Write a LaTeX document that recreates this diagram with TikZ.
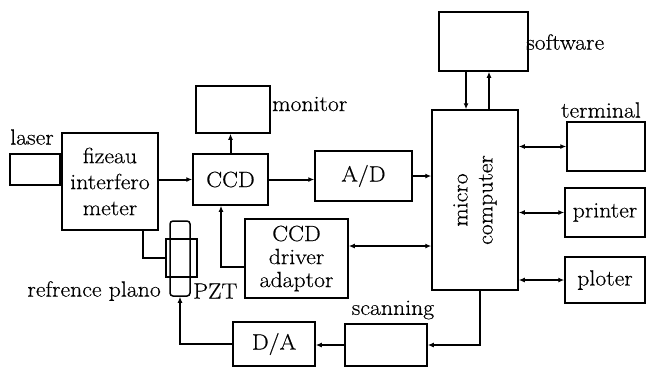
\documentclass[tikz,border=0pt]{standalone}
\usepackage{fontspec}
\setmainfont{Latin Modern Roman}[FakeStretch=1.08,FakeBold=0.4]
\usetikzlibrary{arrows.meta}
\begin{document}
\begin{tikzpicture}[x=1pt,y=-1pt,
  box/.style={draw,line width=1.5pt,inner sep=0pt,font=\fontsize{22}{26}\selectfont},
  conn/.style={line width=2pt},
  arr/.style={conn,-{Latex[length=6pt,width=5pt]}},
  barr/.style={conn,{Latex[length=6pt,width=5pt]}-{Latex[length=6pt,width=5pt]}},
  lbl/.style={inner sep=0pt,font=\fontsize{22}{26}\selectfont}]
\useasboundingbox (0,0) rectangle (647,368);
% boxes
\node[box,minimum width=50pt,minimum height=31pt] (laser) at (35,169.5) {};
\node[box,minimum width=96pt,minimum height=97pt,align=center,font=\fontsize{22}{26}\selectfont] (fizeau) at (110,181.5) {fizeau\\interfero\\meter};
\node[box,minimum width=74pt,minimum height=47pt] (monitor) at (233,109.5) {};
\node[box,minimum width=75pt,minimum height=51pt] (CCD) at (230.5,179.5) {CCD};
\node[box,minimum width=97pt,minimum height=50pt] (AD) at (363.5,176) {A/D};
\node[box,minimum width=103pt,minimum height=79pt,align=center,font=\fontsize{22}{23}\selectfont] (driver) at (296.5,258.5) {CCD\\driver\\adaptor};
\node[box,minimum width=86pt,minimum height=180pt] (micro) at (475,200) {};
\node[lbl,rotate=90,align=center,font=\fontsize{22}{25}\selectfont] (microtext) at (475,200) {micro\\computer};
\node[box,minimum width=89pt,minimum height=59pt] (software) at (483.5,41.5) {};
\node[box,minimum width=78pt,minimum height=49pt] (terminal) at (606,146.5) {};
\node[box,minimum width=80pt,minimum height=49pt] (printer) at (605,212.5) {printer};
\node[box,minimum width=80pt,minimum height=46pt] (ploter) at (605,280) {ploter};
\node[box,minimum width=82pt,minimum height=42pt] (scanning) at (386,345) {};
\node[box,minimum width=82pt,minimum height=44pt] (DA) at (274,344) {D/A};
% PZT assembly
\node[draw,line width=1.5pt,rounded corners=3pt,minimum width=20pt,minimum height=75pt,inner sep=0pt] (pzt) at (180,258.5) {};
\node[draw,line width=1.5pt,minimum width=31pt,minimum height=38pt,inner sep=0pt] (pzto) at (181.5,258) {};
\draw[line width=1.1pt] ([xshift=5pt]pzto.north west) -- ([xshift=5pt]pzto.south west);
% labels
\node[lbl] (laserlbl) at (32,137) {laser};
\node[lbl,anchor=west] (monlbl) at (272,104) {monitor};
\node[lbl,anchor=west] (softlbl) at (526,42) {software};
\node[lbl] (termlbl) at (601,110) {terminal};
\node[lbl,anchor=east] (reflbl) at (161,291) {refrence plano};
\node[lbl,anchor=west] (pztlbl) at (193,291) {PZT};
\node[lbl] (scanlbl) at (393,310) {scanning};
% helper coordinates
\coordinate (drvout) at ([yshift=12.5pt]driver.east);
\coordinate (swl) at ([xshift=-17.5pt]software.south);
\coordinate (swr) at ([xshift=5.5pt]software.south);
% connectors
\draw[conn] (laser.east) -- (fizeau.west |- laser.east);
\draw[arr] (fizeau.east |- CCD.west) -- (CCD.west);
\draw[arr] (CCD.east) -- (AD.west |- CCD.east);
\draw[arr] (AD.east) -- (micro.west |- AD.east);
\draw[arr] (CCD.north) -- (CCD.north |- monitor.south);
\draw[arr] ([yshift=-8.5pt]driver.west) -| ([xshift=-9.5pt]CCD.south);
\draw[barr] (drvout) -- (micro.west |- drvout);
\draw[arr] (swl) -- (swl |- micro.north);
\draw[arr] (swr |- micro.north) -- (swr);
\draw[barr] (micro.east |- terminal.west) -- (terminal.west);
\draw[barr] (micro.east |- printer.west) -- (printer.west);
\draw[barr] (micro.east |- ploter.west) -- (ploter.west);
\draw[arr] ([xshift=5pt]micro.south) |- (scanning.east);
\draw[arr] (scanning.west) -- (DA.east |- scanning.west);
\draw[arr] (DA.west) -| (pzt.south);
\draw[conn] ([xshift=33pt]fizeau.south) |- (pzto.west);
\end{tikzpicture}
\end{document}
